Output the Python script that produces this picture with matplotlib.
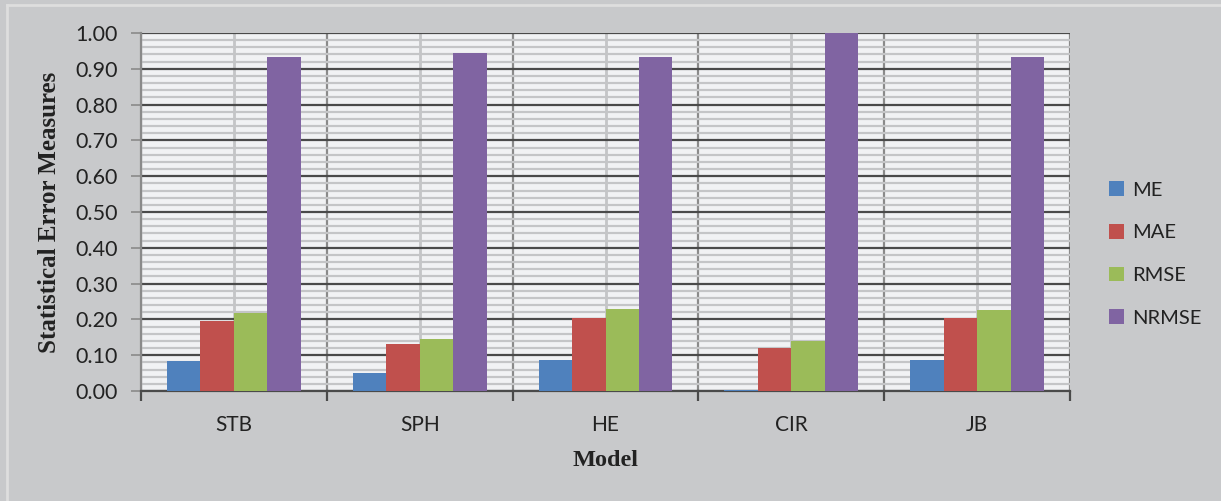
import matplotlib.pyplot as plt
import numpy as np
from matplotlib.lines import Line2D
from matplotlib.ticker import MultipleLocator, FixedLocator

models = ['STB', 'SPH', 'HE', 'CIR', 'JB']
series = ['ME', 'MAE', 'RMSE', 'NRMSE']
me = [0.083, 0.050, 0.087, 0.004, 0.087]
mae = [0.195, 0.131, 0.204, 0.120, 0.203]
rmse = [0.218, 0.146, 0.228, 0.139, 0.226]
nrmse = [0.934, 0.944, 0.934, 1.000, 0.934]
colors = ['#4F81BD', '#C0504D', '#9BBB59', '#8064A2']

fig = plt.figure(figsize=(12.21, 5.01), dpi=100)
fig.patch.set_facecolor('#C8C9CB')
ax = fig.add_axes([141/1221, 1 - 391/501, (1070 - 141)/1221, (391 - 33)/501])
ax.set_facecolor('#F1F2F4')

# outer chart frame (top and left edge)
fig.add_artist(Line2D([7/1221, 1], [1 - 5/501, 1 - 5/501], transform=fig.transFigure, color='#DEDEDE', lw=2))
fig.add_artist(Line2D([7/1221, 7/1221], [0, 1 - 5/501], transform=fig.transFigure, color='#DEDEDE', lw=2))

x = np.arange(len(models))
w = 0.18
for i, (vals, name) in enumerate(zip([me, mae, rmse, nrmse], series)):
    ax.bar(x + (i - 1.5) * w, vals, w, color=colors[i], label=name, zorder=3,
           edgecolor='none')

ax.set_xlim(-0.5, len(models) - 0.5)
ax.set_ylim(0, 1.0)

ax.yaxis.set_minor_locator(MultipleLocator(0.02))
ax.set_yticks(np.arange(0, 1.01, 0.1))
ax.set_yticklabels([f'{v:.2f}' for v in np.arange(0, 1.01, 0.1)])

ax.xaxis.set_major_locator(FixedLocator(np.arange(-0.5, len(models), 1)))
ax.xaxis.set_major_formatter(plt.NullFormatter())
ax.xaxis.set_minor_locator(FixedLocator(x))
ax.set_xticklabels(models, minor=True)

ax.grid(which='minor', axis='y', color='#C4C5C7', lw=1.6, zorder=1)
ax.grid(which='major', axis='y', color='#4A4A4A', lw=1.6, zorder=2)
ax.grid(which='major', axis='x', color='#8A8A8A', lw=1.6, zorder=2)
ax.grid(which='minor', axis='x', color='#C4C5C7', lw=2, zorder=1)

for s in ['top', 'right']:
    ax.spines[s].set_visible(False)
ax.spines['left'].set_color('#8A8A8A')
ax.spines['left'].set_linewidth(1.6)
ax.spines['bottom'].set_color('#4A4A4A')
ax.spines['bottom'].set_linewidth(1.6)

ax.tick_params(axis='y', which='major', length=7, width=1.2, color='#8A8A8A',
               labelsize=15.5, labelcolor='#222222', pad=10)
ax.tick_params(axis='y', which='minor', length=0)
ax.tick_params(axis='x', which='major', length=7, width=1.6, color='#4A4A4A')
ax.tick_params(axis='x', which='minor', length=0, labelsize=15, labelcolor='#222222', pad=17)
for lbl in ax.get_yticklabels() + ax.get_xticklabels(minor=True):
    lbl.set_family('Lato')

ax.set_xlabel('Model', family='Liberation Serif', fontweight='bold', fontsize=17.5,
              color='#222222', labelpad=11)
ax.set_ylabel('Statistical Error Measures', family='Liberation Serif', fontweight='bold',
              fontsize=18, color='#222222', labelpad=10)

leg = fig.legend(loc='center left', bbox_to_anchor=(1091/1221, 1 - 254/501), frameon=False,
                 prop={'family': 'Lato', 'size': 14.5}, handlelength=0.75, handleheight=0.75,
                 handletextpad=0.4, labelspacing=1.25, labelcolor='#222222')

fig.savefig('out.png', dpi=100, facecolor=fig.get_facecolor())
